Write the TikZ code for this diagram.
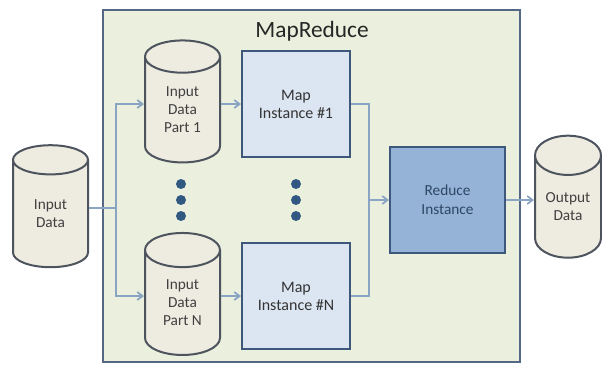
\documentclass[tikz,border=0pt]{standalone}
\usepackage{fontspec}
\setmainfont{Carlito}
\usetikzlibrary{shapes.geometric,arrows.meta}

\definecolor{frameFill}{RGB}{234,240,221}
\definecolor{frameLine}{RGB}{84,104,134}
\definecolor{cylFill}{RGB}{238,236,225}
\definecolor{cylLine}{RGB}{78,84,94}
\definecolor{mapFill}{RGB}{220,230,242}
\definecolor{mapLine}{RGB}{62,88,124}
\definecolor{redFill}{RGB}{149,179,215}
\definecolor{flowLine}{RGB}{138,164,196}
\definecolor{dotFill}{RGB}{48,88,128}

\tikzset{every picture/.style={line width=0.75pt}}
\tikzset{
  dbcyl/.style={cylinder, shape border rotate=90, aspect=0.88, draw=cylLine, fill=cylFill,
    line width=1.5pt, minimum width=56.25pt, minimum height=91.5pt, inner sep=0pt,
    align=center, text=black!75, font=\fontsize{11.5}{13.5}\selectfont},
  taskbox/.style={rectangle, draw=mapLine, fill=mapFill, line width=1.5pt, inner sep=0pt,
    minimum width=81pt, minimum height=79.5pt, align=center, text=black!80,
    font=\fontsize{12}{13.5}\selectfont},
  flow/.style={draw=flowLine, line width=1.3pt},
  flowarrow/.style={flow, -{Straight Barb[length=4pt,width=6pt]}},
  vdot/.style={circle, fill=dotFill, inner sep=0pt, minimum size=7.5pt}
}

\begin{document}
\begin{tikzpicture}[x=0.75pt,y=0.75pt,yscale=-1,xscale=1]
\useasboundingbox (0,0) rectangle (602,365);

%Shape: Rectangle [MapReduce frame]
\node (frame) [rectangle, draw=frameLine, fill=frameFill, line width=1.5pt, minimum width=312.75pt, minimum height=264pt] at (311.5,186) {};
% Text Node
\node (title) [font=\fontsize{17.5}{20}\selectfont, text=black!85] at (312,31) {MapReduce};

%Shape: Can
\node (indata) [dbcyl] at (50.5,214) {Input\\Data};
\node (part1) [dbcyl] at (182.5,110) {Input\\Data\\Part 1};
\node (partN) [dbcyl] at (182.5,303) {Input\\Data\\Part N};
\node (outdata) [dbcyl, minimum width=49.5pt] at (568,207) {Output\\Data};

%Shape: Rectangle
\node (map1) [taskbox] at (296,104) {Map\\Instance \#1};
\node (mapN) [taskbox] at (296,296) {Map\\Instance \#N};
\node (reduce) [taskbox, fill=redFill, minimum width=86.25pt, font=\fontsize{11.5}{14.5}\selectfont, text={rgb,255:red,45;green,70;blue,100}] at (447.5,200) {Reduce\\Instance};

%Shape: Circle
\foreach \y [count=\i] in {184,200,216} {
  \node (ldot\i) [vdot] at (181,\y) {};
  \node (rdot\i) [vdot] at (296,\y) {};
}

%Straight Lines
\coordinate (split) at (116,208);
\coordinate (join) at (369,200);
\draw [flow] (indata.east |- split) -- (split);
\draw [flowarrow] (split) |- (part1.west |- map1);
\draw [flowarrow] (split) |- (partN.west |- mapN);
\draw [flowarrow] (part1.east |- map1) -- (map1);
\draw [flowarrow] (partN.east |- mapN) -- (mapN);
\draw [flow] (map1) -| (join);
\draw [flow] (mapN) -| (join);
\draw [flowarrow] (join) -- (reduce);
\draw [flowarrow] (reduce) -- (outdata.west |- reduce);

\end{tikzpicture}
\end{document}
